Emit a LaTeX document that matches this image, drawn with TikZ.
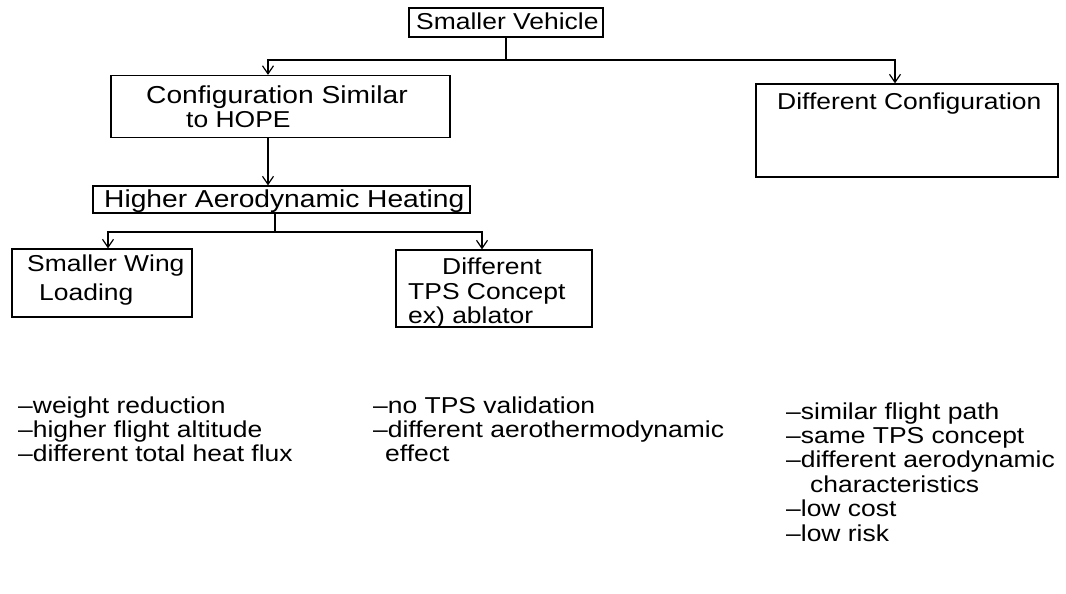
\documentclass[tikz,border=0pt]{standalone}
\usepackage{fontspec}
\setmainfont{Liberation Sans}[FakeStretch=1.15]
\usetikzlibrary{arrows.meta}
\begin{document}
\begin{tikzpicture}[x=1pt,y=-1pt,
  font=\fontsize{23}{24.5}\selectfont,
  box/.style={draw, line width=1.3pt, inner sep=0pt},
  txt/.style={inner sep=0pt, anchor=base west},
  big/.style={font=\fontsize{24.5}{26}\selectfont},
  conn/.style={line width=1.2pt},
  arr/.style={line width=1.2pt, -{Straight Barb[length=8pt,width=11pt,line width=1.2pt]}}]
\useasboundingbox (0,0) rectangle (1066,594);
% boxes
\node[box, minimum width=194pt, minimum height=29pt] (sv) at (506,22.5) {};
\node[box, minimum width=339pt, minimum height=62pt] (cfg) at (280.5,106.5) {};
\node[box, minimum width=302pt, minimum height=93pt] (dc) at (907,130.5) {};
\node[box, minimum width=377pt, minimum height=27pt] (ha) at (281.5,199.5) {};
\node[box, minimum width=180pt, minimum height=68pt] (sw) at (102,283) {};
\node[box, minimum width=196pt, minimum height=77pt] (tps) at (494,288.5) {};
% box texts
\node[txt] (svt) at (416,30) {Smaller Vehicle};
\node[txt, big] (hat) at (104,207) {Higher Aerodynamic Heating};
\node[txt, big] (cfg1) at (146,103) {Configuration Similar};
\node[txt] (cfg2) at (186,128) {to HOPE};
\node[txt] (dct) at (777,110) {Different Configuration};
\node[txt] (sw1) at (27,271) {Smaller Wing};
\node[txt] (sw2) at (39,300) {Loading};
\node[txt] (tps1) at (442,274) {Different};
\node[txt] (tps2) at (408,299) {TPS Concept};
\node[txt] (tps3) at (408,323) {ex) ablator};
% connectors
\coordinate (j1) at (sv.south |- 0,60);
\coordinate (j2) at (ha.south -| 275,0);
\coordinate (j2b) at (275,232);
\draw[conn] (sv.south) -- (j1);
\draw[arr] (j1) -| (cfg.north -| 268,0) ;
\draw[arr] (j1) -| (dc.north -| 895,0);
\draw[arr] (cfg.south -| 268,0) -- (ha.north -| 268,0);
\draw[conn] (j2) -- (j2b);
\draw[arr] (j2b) -| (sw.north -| 108,0);
\draw[arr] (j2b) -| (tps.north -| 482,0);
% lists
\node[txt] (a1) at (18,413) {–weight reduction};
\node[txt] (a2) at (18,437) {–higher flight altitude};
\node[txt] (a3) at (18,461) {–different total heat flux};
\node[txt] (b1) at (373,413) {–no TPS validation};
\node[txt] (b2) at (373,437) {–different aerothermodynamic};
\node[txt] (b3) at (385,461) {effect};
\node[txt] (c1) at (786,419) {–similar flight path};
\node[txt] (c2) at (786,443) {–same TPS concept};
\node[txt] (c3) at (786,467) {–different aerodynamic};
\node[txt] (c4) at (810,492) {characteristics};
\node[txt] (c5) at (786,516) {–low cost};
\node[txt] (c6) at (786,541) {–low risk};
\end{tikzpicture}
\end{document}
